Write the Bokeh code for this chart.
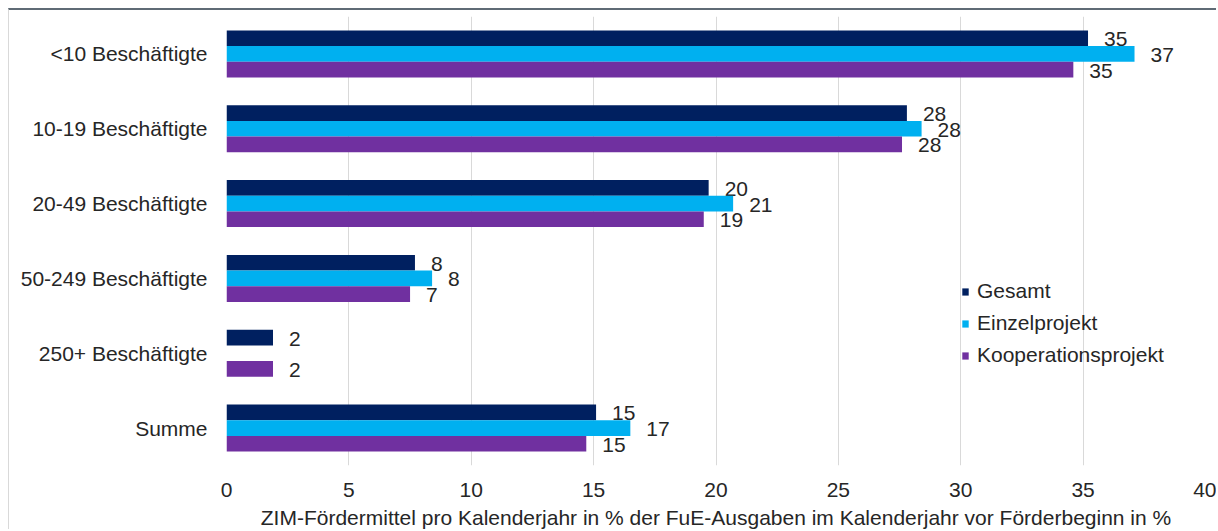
from bokeh.plotting import figure
from bokeh.models import (ColumnDataSource, FactorRange, Range1d, FixedTicker,
                          Legend, LegendItem)
from bokeh.transform import dodge
from bokeh.core.properties import value
from bokeh.embed import file_html
from bokeh.resources import INLINE

# ---------------- data ----------------
categories = ["<10 Beschäftigte", "10-19 Beschäftigte", "20-49 Beschäftigte",
              "50-249 Beschäftigte", "250+ Beschäftigte", "Summe"]
series_names = ["Gesamt", "Einzelprojekt", "Kooperationsprojekt"]
gesamt = [35.2, 27.8, 19.7, 7.7, 1.9, 15.1]
einzel = [37.1, 28.4, 20.7, 8.4, None, 16.5]
koop = [34.6, 27.6, 19.5, 7.5, 1.9, 14.7]
gesamt_labels = ["35", "28", "20", "8", "2", "15"]
einzel_labels = ["37", "28", "21", "8", "", "17"]
koop_labels = ["35", "28", "19", "7", "2", "15"]
x_ticks = [0, 5, 10, 15, 20, 25, 30, 35, 40]
x_title = "ZIM-Fördermittel pro Kalenderjahr in % der FuE-Ausgaben im Kalenderjahr vor Förderbeginn in %"

colors = ["#002060", "#00B0F0", "#7030A0"]
offsets = [0.209, 0.0, -0.209]
FONT = "Liberation Sans"
TXT = "#262626"
FS = "21px"

W, H = 1208, 521
p = figure(width=W, height=H, output_backend="svg", toolbar_location=None,
           y_range=FactorRange(factors=list(reversed(categories))),
           x_range=Range1d(0, 40), title=None)
p.styles = {"margin-top": "8px", "margin-left": "8px",
            "border-top": "2px solid #5F6B75", "border-left": "1px solid #D9D9D9"}
p.min_border_left = 217
p.min_border_right = 12
p.min_border_top = 6
p.min_border_bottom = 65
p.outline_line_color = None
p.background_fill_color = "white"
p.border_fill_color = "white"

renderers = []
for name, vals, labs, col, off in zip(series_names, [gesamt, einzel, koop],
                                      [gesamt_labels, einzel_labels, koop_labels],
                                      colors, offsets):
    cats = [c for c, v in zip(categories, vals) if v is not None]
    vv = [v for v in vals if v is not None]
    ll = [l for l, v in zip(labs, vals) if v is not None]
    src = ColumnDataSource(dict(cat=cats, val=vv, lab=ll))
    r = p.hbar(y=dodge("cat", off, range=p.y_range), right="val", left=0,
               height=0.209, source=src, fill_color=col, line_color=None)
    renderers.append(r)
    p.text(x="val", y=dodge("cat", off, range=p.y_range), text="lab", source=src,
           x_offset=16, y_offset=1, text_align="left", text_baseline="middle",
           text_font=value(FONT), text_font_size=FS, text_color=TXT)

# axes
p.xaxis.ticker = FixedTicker(ticks=x_ticks)
p.xaxis.axis_line_color = None
p.xaxis.major_tick_line_color = None
p.xaxis.minor_tick_line_color = None
p.xaxis.major_label_text_font = FONT
p.xaxis.major_label_text_font_size = FS
p.xaxis.major_label_text_color = TXT
p.xaxis.major_label_text_line_height = 1.0
p.xaxis.major_label_standoff = 11
p.xaxis.axis_label = x_title
p.xaxis.axis_label_text_font = FONT
p.xaxis.axis_label_text_font_size = FS
p.xaxis.axis_label_text_font_style = "normal"
p.xaxis.axis_label_text_color = TXT
p.xaxis.axis_label_text_line_height = 1.0
p.xaxis.axis_label_standoff = 6

p.yaxis.axis_line_color = None
p.yaxis.major_tick_line_color = None
p.yaxis.minor_tick_line_color = None
p.yaxis.major_label_text_font = FONT
p.yaxis.major_label_text_font_size = FS
p.yaxis.major_label_text_color = TXT
p.yaxis.major_label_standoff = 13

p.xgrid.grid_line_color = "#D9D9D9"
p.xgrid.grid_line_width = 1
p.ygrid.grid_line_color = None

# legend
legend = Legend(items=[LegendItem(label=n, renderers=[r]) for n, r in zip(series_names, renderers)],
                location=(735, 98), orientation="vertical",
                glyph_width=8, glyph_height=9, label_standoff=8, spacing=8,
                padding=0, margin=0, border_line_color=None, background_fill_alpha=0,
                label_text_font=FONT, label_text_font_size=FS, label_text_color=TXT)
p.add_layout(legend, "center")

open("out.html", "w").write(file_html(p, INLINE))
